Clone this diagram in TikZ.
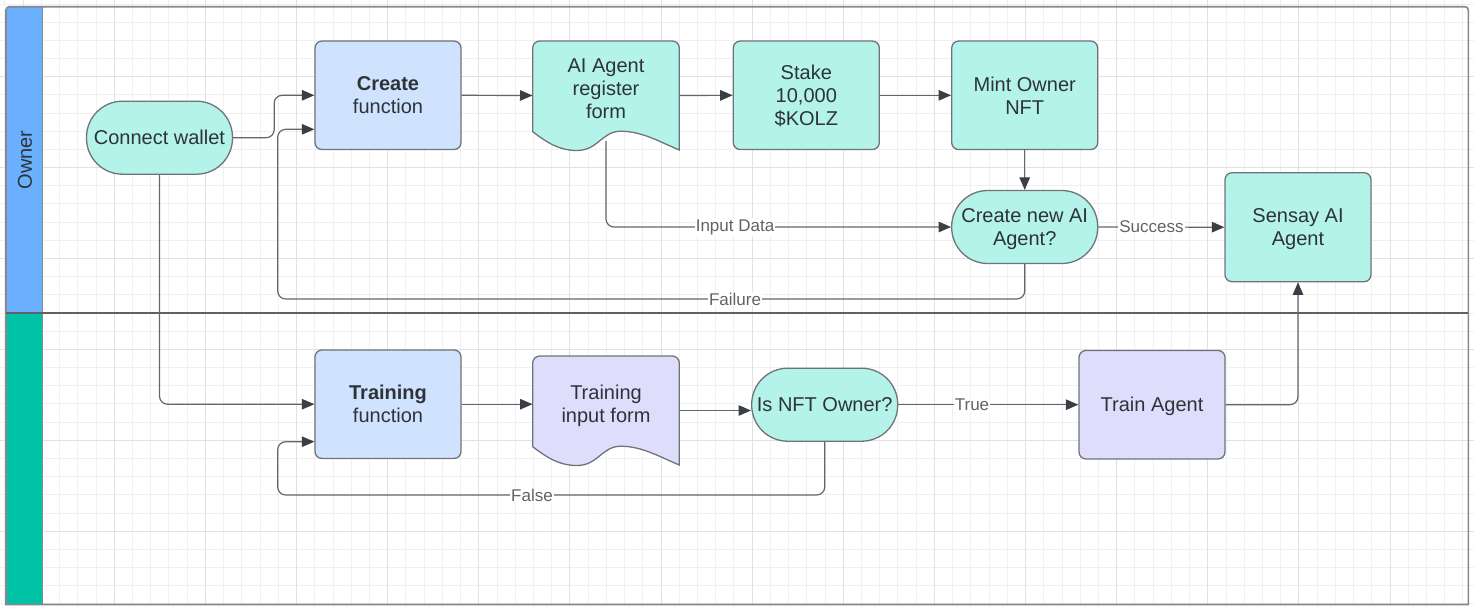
\documentclass[tikz,border=0pt]{standalone}
\usepackage{fontspec}
\setmainfont{Liberation Sans}
\usetikzlibrary{arrows.meta,calc}
\definecolor{gridminor}{HTML}{F0F0F0}
\definecolor{gridmajor}{HTML}{E1E1E1}
\definecolor{strokegray}{HTML}{6F7479}
\definecolor{framegray}{HTML}{85898E}
\definecolor{divgray}{HTML}{5E6267}
\definecolor{linegray}{HTML}{62676C}
\definecolor{tipgray}{HTML}{3A3F45}
\definecolor{txt}{HTML}{2E3338}
\definecolor{lbl}{HTML}{5F6469}
\definecolor{tealfill}{HTML}{B4F3E9}
\definecolor{bluefill}{HTML}{CFE3FE}
\definecolor{lavfill}{HTML}{DEDEFC}
\definecolor{laneblue}{HTML}{6AB0FF}
\definecolor{laneteal}{HTML}{00C2A6}
\begin{document}
\begin{tikzpicture}[x=1pt,y=-1pt,
  mainfont/.style={font=\fontsize{20}{23}\selectfont},
  box/.style={draw=strokegray, line width=1.3pt, rounded corners=7pt, minimum width=146pt, minimum height=108.5pt, inner sep=2pt, align=center, text=txt, mainfont, text depth=0pt},
  tealbox/.style={box, fill=tealfill},
  bluebox/.style={box, fill=bluefill},
  lavbox/.style={box, fill=lavfill},
  pill/.style={draw=strokegray, line width=1.3pt, rounded corners=36pt, minimum width=146pt, minimum height=73pt, fill=tealfill, align=center, text=txt, mainfont, inner sep=2pt, text depth=0pt},
  multiline/.style={execute at begin node={\vspace*{6pt}}},
  formtext/.style={align=center, text=txt, mainfont, inner sep=0pt},
  formarea/.style={minimum width=146.6pt, minimum height=109pt, inner sep=0pt},
  formshape/.style={draw=strokegray, line width=1.3pt},
  conn/.style={draw=linegray, line width=1.2pt, rounded corners=8pt, -{Triangle[length=12.5pt,width=10.5pt,color=tipgray]}},
  lab/.style={fill=white, text=lbl, font=\fontsize{17}{20}\selectfont, inner sep=1pt},
]
\useasboundingbox (0,0) rectangle (1474,606);
% grid
\foreach \k in {0,...,80} {
  \pgfmathsetmacro\xx{4.95+18.225*\k}
  \draw[gridminor, line width=1pt] (\xx,0) -- (\xx,606);
}
\foreach \k in {0,...,33} {
  \pgfmathsetmacro\yy{4.0+18.18*\k}
  \draw[gridminor, line width=1pt] (0,\yy) -- (1474,\yy);
}
\foreach \k in {1,6,...,76} {
  \pgfmathsetmacro\xx{4.95+18.225*\k}
  \draw[gridmajor, line width=1pt] (\xx,0) -- (\xx,606);
}
\foreach \k in {4,9,...,29} {
  \pgfmathsetmacro\yy{4.0+18.18*\k}
  \draw[gridmajor, line width=1pt] (0,\yy) -- (1474,\yy);
}
% lanes
\fill[laneblue] (6,313.3) -- (6,10) arc[start angle=180, delta angle=90, radius=3.3] -- (42.7,6.7) -- (42.7,313.3) -- cycle;
\fill[laneteal] (6,313.3) rectangle (42.7,604.5);
\draw[framegray, line width=1.6pt] (6,604.5) -- (6,10) arc[start angle=180, delta angle=90, radius=3.3] -- (1465,6.7) arc[start angle=270, delta angle=90, radius=3.3] -- (1468.3,604.5) -- cycle;
\draw[framegray, line width=1.4pt] (42.7,6.7) -- (42.7,604.5);
\draw[divgray, line width=2pt] (6,313.3) -- (1468.3,313.3);
\node[rotate=90, text=txt, mainfont, inner sep=0pt] (ownerlbl) at (25,160) {Owner};

% form shapes
\draw[formshape, fill=tealfill] (532.7,131.7) -- (532.7,48) arc[start angle=180, delta angle=90, radius=7] -- (672.3,41) arc[start angle=270, delta angle=90, radius=7] -- (679.3,150)
  .. controls (660,142) and (642,131.2) .. (620.7,131.2)
  .. controls (602,131.2) and (598,150.5) .. (577,150.5)
  .. controls (558,150.5) and (545,141) .. (532.7,131.7) -- cycle;
\draw[formshape, fill=lavfill] (532.7,446.7) -- (532.7,363) arc[start angle=180, delta angle=90, radius=7] -- (672.3,356) arc[start angle=270, delta angle=90, radius=7] -- (679.3,465)
  .. controls (660,457) and (642,446.2) .. (620.7,446.2)
  .. controls (602,446.2) and (598,465.5) .. (577,465.5)
  .. controls (558,465.5) and (545,456) .. (532.7,446.7) -- cycle;

% nodes
\node[pill] (wallet) at (159.5,137.7) {Connect wallet};
\node[bluebox, multiline] (create) at (388,95.3) {\textbf{Create}\\function};
\node[formarea] (regform) at (606,95.5) {};
\node[formtext] (regtext) at (606,88.5) {AI Agent\\register\\form};
\node[tealbox, multiline] (stake) at (806.3,95.3) {Stake\\10,000\\\$KOLZ};
\node[tealbox, multiline] (mint) at (1024.7,95.3) {Mint Owner\\NFT};
\node[pill, multiline] (decision) at (1024.7,227) {Create new AI\\Agent?};
\node[tealbox, multiline, minimum height=109pt] (sensay) at (1298,227.2) {Sensay AI\\Agent};
\node[bluebox, multiline] (trainfn) at (388,404.2) {\textbf{Training}\\function};
\node[formarea] (trainform) at (606,410.5) {};
\node[formtext] (traintext) at (606,406) {Training\\input form};
\node[pill] (isnft) at (824.7,404.7) {Is NFT Owner?};
\node[lavbox] (trainagent) at (1152,404.7) {Train Agent};

\coordinate (regout) at (606,141);
\coordinate (cf0) at (277.7,299);
\coordinate (cf1) at (277.7,129.3);
\coordinate (cf2) at (277.7,495);
\coordinate (cf3) at (277.7,441.7);

% connectors
\draw[conn] (wallet.east) -- ++(41,0) |- (create.west);
\draw[conn] (wallet.south) |- (trainfn.west);
\draw[conn] (create.east) -- (regform.west);
\draw[conn] (regform.east) -- (stake.west);
\draw[conn] (stake.east) -- (mint.west);
\draw[conn] (mint.south) -- (decision.north);
\draw[conn] (regout) |- (decision.west);
\draw[conn] (decision.east) -- (sensay.west);
\draw[conn] (decision.south) |- (cf0) -- (cf1) -- (create.west |- cf1);
\draw[conn] (trainfn.east) -- (trainfn.east -| trainform.west);
\draw[conn] (trainform.east) -- (trainform.east -| isnft.west);
\draw[conn] (isnft.east) -- (trainagent.west);
\draw[conn] (isnft.south) |- (cf2) -- (cf3) -- (trainfn.west |- cf3);
\draw[conn] (trainagent.east) -| (sensay.south);

% labels
\node[lab] (inputlbl) at (735,227) {Input Data};
\node[lab] (successlbl) at (1151.5,227) {Success};
\node[lab] (failurelbl) at (735,299) {Failure};
\node[lab] (truelbl) at (972,404.7) {True};
\node[lab] (falselbl) at (532,495) {False};
\end{tikzpicture}
\end{document}
